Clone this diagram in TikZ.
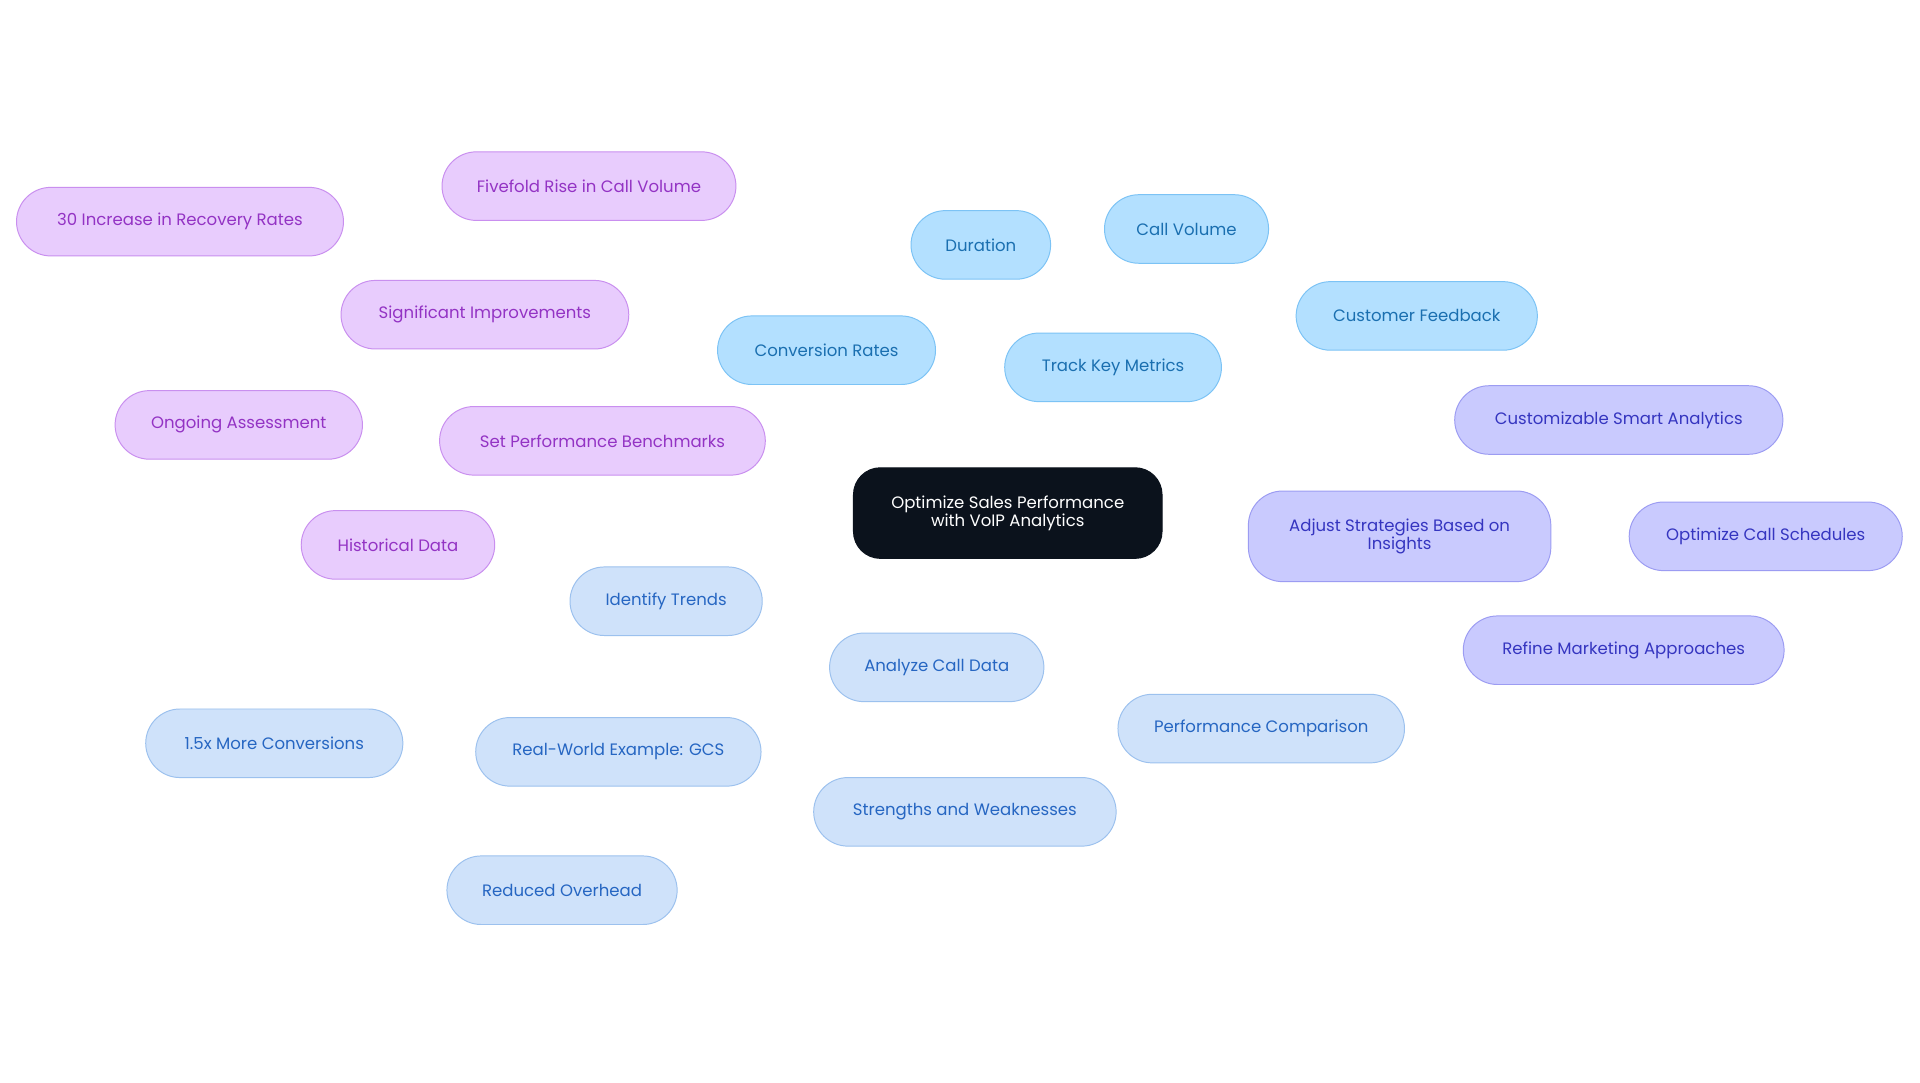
\documentclass[tikz,border=0pt]{standalone}
\usepackage{fontspec}
\setmainfont{Poppins}
\usetikzlibrary{backgrounds}
\definecolor{cF}{HTML}{B3E0FF}\definecolor{cB}{HTML}{7CC3F5}\definecolor{cT}{HTML}{1A6FB0}
\definecolor{pF}{HTML}{E8CCFD}\definecolor{pB}{HTML}{C98FEF}\definecolor{pT}{HTML}{9333C4}
\definecolor{iF}{HTML}{C9CAFE}\definecolor{iB}{HTML}{9C9CF2}\definecolor{iT}{HTML}{3535C0}
\definecolor{bF}{HTML}{CFE2FA}\definecolor{bB}{HTML}{9CC1EE}\definecolor{bT}{HTML}{2666C2}
\definecolor{dk}{HTML}{0B121C}
\tikzset{x=1pt,y=-1pt,
 base/.style={rounded corners=28pt,minimum height=56pt,font=\fontsize{13.5}{15}\selectfont,align=center,inner sep=0pt,line width=0.8pt},
 cyan/.style={base,fill=cF,draw=cB,text=cT},
 purp/.style={base,fill=pF,draw=pB,text=pT},
 indi/.style={base,fill=iF,draw=iB,text=iT},
 pale/.style={base,fill=bF,draw=bB,text=bT},
 ec/.style={draw=cB,line width=1.5pt},
 ep/.style={draw=pB,line width=1.5pt},
 ei/.style={draw=iB,line width=1.5pt},
 eb/.style={draw=bB,line width=1.5pt}}
\begin{document}
\begin{tikzpicture}
\useasboundingbox[fill=white] (0,0) rectangle (1568,884);
\node[base,fill=dk,draw=dk,text=white,minimum width=252pt,minimum height=74pt,rounded corners=22pt] (c) at (823,419) {Optimize Sales Performance\\with VoIP Analytics};
\node[cyan,minimum width=177pt] (tk) at (909,300) {Track Key Metrics};
\node[cyan,minimum width=114pt] (du) at (801,200) {Duration};
\node[cyan,minimum width=134pt] (cv) at (969,187) {Call Volume};
\node[cyan,minimum width=197pt] (cf) at (1157,258) {Customer Feedback};
\node[cyan,minimum width=178pt] (cr) at (675,286) {Conversion Rates};
\node[indi,minimum width=247pt,minimum height=74pt] (ad) at (1143,438) {Adjust Strategies Based on\\Insights};
\node[indi,minimum width=268pt] (cs) at (1322,343) {Customizable Smart Analytics};
\node[indi,minimum width=223pt] (oc) at (1442,438) {Optimize Call Schedules};
\node[indi,minimum width=262pt] (rm) at (1326,531) {Refine Marketing Approaches};
\node[purp,minimum width=266pt] (sp) at (492,360) {Set Performance Benchmarks};
\node[purp,minimum width=235pt] (si) at (396,257) {Significant Improvements};
\node[purp,minimum width=240pt] (ff) at (481,152) {Fivefold Rise in Call Volume};
\node[purp,minimum width=267pt] (ti) at (147,181) {30 Increase in Recovery Rates};
\node[purp,minimum width=202pt] (oa) at (195,347) {Ongoing Assessment};
\node[purp,minimum width=158pt] (hd) at (325,445) {Historical Data};
\node[pale,minimum width=175pt] (ac) at (765,545) {Analyze Call Data};
\node[pale,minimum width=157pt] (it) at (544,491) {Identify Trends};
\node[pale,minimum width=233pt] (rw) at (505,614) {Real-World Example: GCS};
\node[pale,minimum width=210pt] (mc) at (224,607) {1.5x More Conversions};
\node[pale,minimum width=188pt] (ro) at (459,727) {Reduced Overhead};
\node[pale,minimum width=234pt] (pc) at (1030,595) {Performance Comparison};
\node[pale,minimum width=247pt] (sw) at (788,663) {Strengths and Weaknesses};
\begin{scope}[on background layer]
\draw[ec] (c)--(tk); \draw[ec] (tk)--(du); \draw[ec] (tk)--(cv); \draw[ec] (tk)--(cf); \draw[ec] (tk)--(cr);
\draw[ei] (c)--(ad); \draw[ei] (ad)--(cs); \draw[ei] (ad)--(oc); \draw[ei] (ad)--(rm);
\draw[ep] (c)--(sp); \draw[ep] (sp)--(si); \draw[ep] (si)--(ff); \draw[ep] (si)--(ti); \draw[ep] (sp)--(oa); \draw[ep] (sp)--(hd);
\draw[eb] (c)--(ac); \draw[eb] (ac)--(it); \draw[eb] (ac)--(rw); \draw[eb] (rw)--(mc); \draw[eb] (rw)--(ro); \draw[eb] (ac)--(pc); \draw[eb] (ac)--(sw);
\end{scope}
\end{tikzpicture}
\end{document}
